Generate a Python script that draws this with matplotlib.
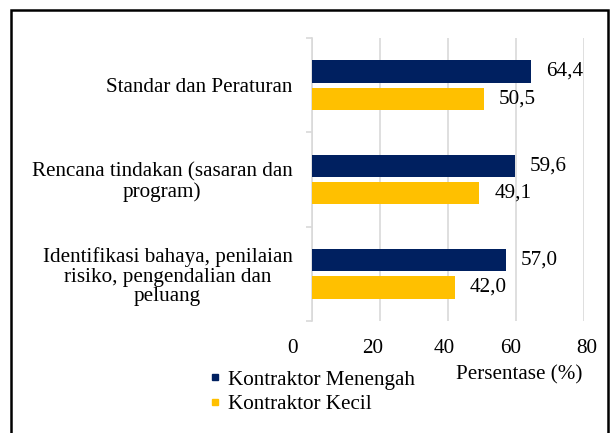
import matplotlib
matplotlib.use("Agg")
from matplotlib import pyplot as plt
from matplotlib.lines import Line2D
from matplotlib.transforms import ScaledTranslation

# data
kategori = ["Standar dan Peraturan",
            "Rencana tindakan (sasaran dan\nprogram)",
            "Identifikasi bahaya, penilaian\nrisiko, pengendalian dan\npeluang"]
menengah = [64.4, 59.6, 57.0]
kecil = [50.5, 49.1, 42.0]
seri = ["Kontraktor Menengah", "Kontraktor Kecil"]
xticks = [0, 20, 40, 60, 80]

warna_menengah = "#002060"
warna_kecil = "#FFC000"
abu = "#d9d9d9"

plt.rcParams["font.family"] = ["Liberation Serif", "DejaVu Serif"]
fs = 15.2

W, H = 614, 433
fig = plt.figure(figsize=(W / 100, H / 100), dpi=100)
ax = fig.add_axes([312 / W, 1 - 321 / H, (584 - 312) / W, (321 - 38) / H])

y = list(range(len(kategori)))
h = 0.234
b1 = ax.barh([i - 0.145 for i in y], menengah, height=h, color=warna_menengah, zorder=3)
b2 = ax.barh([i + 0.145 for i in y], kecil, height=h, color=warna_kecil, zorder=3)

fmt = lambda v: ("%.1f" % v).replace(".", ",")
ax.bar_label(b1, labels=[fmt(v) for v in menengah], padding=11, fontsize=fs)
ax.bar_label(b2, labels=[fmt(v) for v in kecil], padding=11, fontsize=fs)

ax.set_xlim(0, 80)
ax.set_ylim(2.5, -0.5)

# sumbu dan grid
for s in ["top", "right", "bottom"]:
    ax.spines[s].set_visible(False)
ax.spines["left"].set_color(abu)
ax.spines["left"].set_linewidth(1.2)
ax.xaxis.grid(True, color=abu, linewidth=1.2, zorder=0)
ax.set_axisbelow(True)

ax.set_yticks(y)
ax.set_yticklabels(kategori, fontsize=fs, ma="center", linespacing=1.05)
ax.set_yticks([-0.5, 0.5, 1.5, 2.5], minor=True)
ax.tick_params(axis="y", which="major", length=0, pad=14)
ax.tick_params(axis="y", which="minor", length=4, color=abu, width=1.2)

ax.set_xticks(xticks)
ax.set_xticklabels([str(t) for t in xticks], fontsize=fs)
ax.tick_params(axis="x", length=0, pad=13)
# geser label sumbu x seperti di gambar asli
geser = [-20, -7, -4, -5, 3]
for lab, dx in zip(ax.get_xticklabels(), geser):
    lab.set_transform(lab.get_transform() + ScaledTranslation(dx / 100, 0, fig.dpi_scale_trans))

ax.set_xlabel("Persentase (%)", fontsize=fs)
ax.xaxis.set_label_coords((519 - 312) / 272, -0.155)

# legenda
handles = [Line2D([], [], marker="s", linestyle="none", markersize=4.5, color=warna_menengah),
           Line2D([], [], marker="s", linestyle="none", markersize=4.5, color=warna_kecil)]
fig.legend(handles, seri, loc="upper left", bbox_to_anchor=(209 / W, 1 - 370 / H),
           bbox_transform=fig.transFigure, frameon=False, fontsize=fs,
           handlelength=0.6, handletextpad=0.3, labelspacing=0.22, borderpad=0,
           borderaxespad=0)

# bingkai (bagian bawah terpotong)
kx = [11 / W, 11 / W, 608 / W, 608 / W]
ky = [-0.1, 1 - 9.5 / H, 1 - 9.5 / H, -0.1]
fig.add_artist(Line2D(kx, ky, transform=fig.transFigure, color="black", lw=1.8,
                      solid_joinstyle="miter"))

fig.savefig("out.png", dpi=100)
